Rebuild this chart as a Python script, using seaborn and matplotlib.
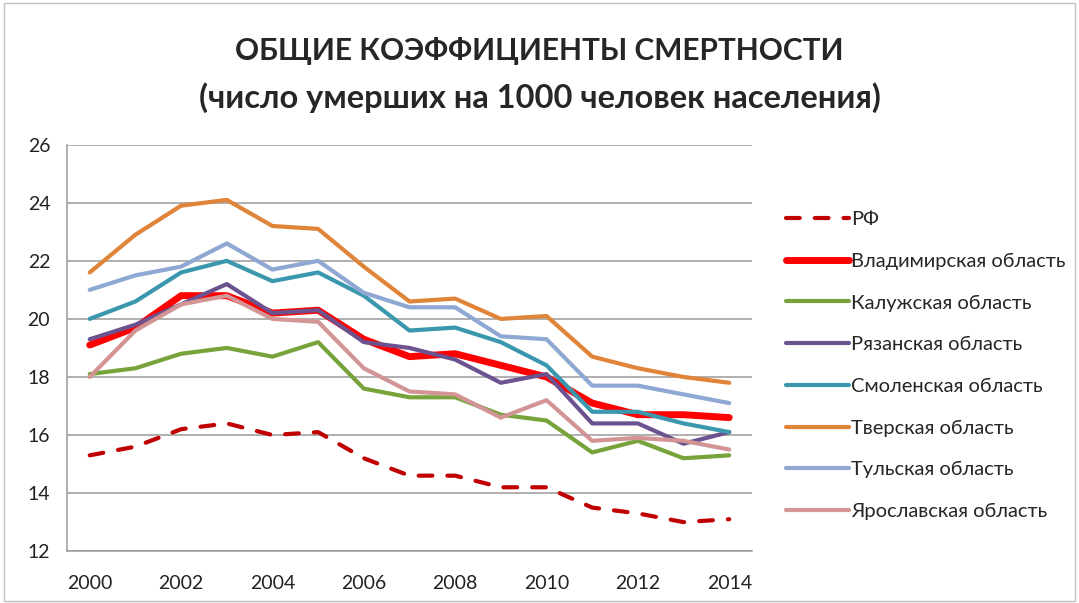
import matplotlib
matplotlib.use("Agg")
import matplotlib.pyplot as plt
from matplotlib.patches import Rectangle
import seaborn as sns
import pandas as pd

years = list(range(2000, 2015))

rf = [15.3, 15.6, 16.2, 16.4, 16.0, 16.1, 15.2, 14.6, 14.6, 14.2, 14.2, 13.5, 13.3, 13.0, 13.1]
vladimir = [19.1, 19.7, 20.8, 20.8, 20.2, 20.3, 19.3, 18.7, 18.8, 18.4, 18.0, 17.1, 16.7, 16.7, 16.6]
kaluga = [18.1, 18.3, 18.8, 19.0, 18.7, 19.2, 17.6, 17.3, 17.3, 16.7, 16.5, 15.4, 15.8, 15.2, 15.3]
ryazan = [19.3, 19.8, 20.5, 21.2, 20.2, 20.3, 19.2, 19.0, 18.6, 17.8, 18.1, 16.4, 16.4, 15.7, 16.1]
smolensk = [20.0, 20.6, 21.6, 22.0, 21.3, 21.6, 20.8, 19.6, 19.7, 19.2, 18.4, 16.8, 16.8, 16.4, 16.1]
tver = [21.6, 22.9, 23.9, 24.1, 23.2, 23.1, 21.8, 20.6, 20.7, 20.0, 20.1, 18.7, 18.3, 18.0, 17.8]
tula = [21.0, 21.5, 21.8, 22.6, 21.7, 22.0, 20.9, 20.4, 20.4, 19.4, 19.3, 17.7, 17.7, 17.4, 17.1]
yaroslavl = [18.0, 19.6, 20.5, 20.8, 20.0, 19.9, 18.3, 17.5, 17.4, 16.6, 17.2, 15.8, 15.9, 15.8, 15.5]

names = ["РФ", "Владимирская область", "Калужская область", "Рязанская область",
         "Смоленская область", "Тверская область", "Тульская область", "Ярославская область"]
series = [rf, vladimir, kaluga, ryazan, smolensk, tver, tula, yaroslavl]
colors = ["#C00000", "#FF0000", "#77A33B", "#6C5390", "#3A97AE", "#E0843A", "#8FA8D3", "#D29494"]
widths = [3.0, 5.0, 3.0, 3.0, 3.0, 3.0, 3.0, 3.0]

sns.set_style("white")
plt.rcParams['font.family'] = ['Lato', 'DejaVu Sans']

fig = plt.figure(figsize=(10.79, 6.03), dpi=100)
ax = fig.add_axes([0.062, 0.086, 0.635, 0.674])

for name, vals, col, lw in zip(names, series, colors, widths):
    df = pd.DataFrame({"year": years, "value": vals})
    sns.lineplot(data=df, x="year", y="value", ax=ax, color=col, lw=lw,
                 label=name, solid_capstyle="round")
    if name == "РФ":
        ax.lines[-1].set_dashes((3.3, 3.6))
        ax.lines[-1].set_dash_capstyle("round")

ax.set_xlim(1999.5, 2014.5)
ax.set_ylim(12, 26)
ax.set_xticks(range(2000, 2015, 2))
ax.set_yticks(range(12, 27, 2))
ax.set_xlabel("")
ax.set_ylabel("")
ax.yaxis.grid(True, color="#9A9A9A", lw=1.1)
ax.xaxis.grid(False)
for s in ["top", "right"]:
    ax.spines[s].set_visible(False)
for s in ["left", "bottom"]:
    ax.spines[s].set_color("#9A9A9A")
    ax.spines[s].set_linewidth(1.1)
ax.tick_params(axis="both", labelsize=14, length=0, colors="#222222")
ax.tick_params(axis="x", pad=17)
ax.tick_params(axis="y", pad=12)

handles, labels = ax.get_legend_handles_labels()
ax.get_legend().remove()
fig.legend(handles, labels, loc="upper left", bbox_to_anchor=(0.712, 0.68),
           frameon=False, fontsize=14.5, handlelength=3.1, handletextpad=0.12,
           labelspacing=1.22)

fig.text(0.5, 0.915, "ОБЩИЕ КОЭФФИЦИЕНТЫ СМЕРТНОСТИ", ha="center", va="center",
         fontsize=21.5, fontweight="bold")
fig.text(0.5, 0.838, "(число умерших на 1000 человек населения)", ha="center", va="center",
         fontsize=23.5, fontweight="bold")

fig.patches.append(Rectangle((0.004, 0.003), 0.992, 0.992, transform=fig.transFigure,
                             fill=False, edgecolor="#BFBFBF", lw=1))

fig.savefig("out.png", dpi=100)
